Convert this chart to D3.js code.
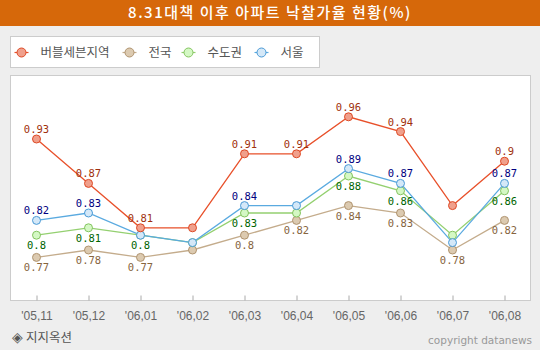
<!DOCTYPE html>
<html><head><meta charset="utf-8">
<script src="https://cdn.jsdelivr.net/npm/d3@7"></script>
<style>
html,body{margin:0;padding:0;background:#eeeeee;}
svg{display:block;}
</style></head>
<body>
<svg id="chart" width="540" height="350"></svg>
<script>
const title = "8.31대책 이후 아파트 낙찰가율 현황(%)";
const categories = ["'05,11","'05,12","'06,01","'06,02","'06,03","'06,04","'06,05","'06,06","'06,07","'06,08"];
const seriesNames = ["버블세븐지역","전국","수도권","서울"];
const bubbleSeven = [0.93,0.87,0.81,0.81,0.91,0.91,0.96,0.94,0.84,0.90];
const national   = [0.77,0.78,0.77,0.78,0.80,0.82,0.84,0.83,0.78,0.82];
const metro      = [0.80,0.81,0.80,0.79,0.83,0.83,0.88,0.86,0.80,0.86];
const seoul      = [0.82,0.83,0.80,0.79,0.84,0.84,0.89,0.87,0.79,0.87];
// which points carry a value label in the reference
const bubbleSevenLabeled = [1,1,1,0,1,1,1,1,0,1];
const nationalLabeled    = [1,1,1,0,1,1,1,1,1,1];
const metroLabeled       = [1,1,1,0,1,0,1,1,0,1];
const seoulLabeled       = [1,1,0,0,1,0,1,1,0,1];
const sourceMark = "◈";
const source = "지지옥션";
const copyright = "copyright datanews";

const svg = d3.select("#chart");
const W = 540, H = 350;

// title bar
svg.append("rect").attr("x",0).attr("y",0).attr("width",W).attr("height",26).attr("fill","#d6680a");
svg.append("text").attr("x",W/2).attr("y",18).attr("text-anchor","middle")
  .attr("fill","#fff").attr("font-family","'Noto Sans CJK KR', sans-serif")
  .attr("font-weight",500).attr("font-size",15).attr("letter-spacing",1.5).text(title);

const styles = [
  {name:seriesNames[0], data:bubbleSeven, lab:bubbleSevenLabeled, line:"#e8502a", fill:"#f0a08c", stroke:"#de4a26", text:"#a0300c", pos:"above"},
  {name:seriesNames[1], data:national, lab:nationalLabeled, line:"#c4ac8c", fill:"#dccab0", stroke:"#b09470", text:"#86643e", pos:"below"},
  {name:seriesNames[2], data:metro, lab:metroLabeled, line:"#94d070", fill:"#d4f8c4", stroke:"#84c460", text:"#006400", pos:"below"},
  {name:seriesNames[3], data:seoul, lab:seoulLabeled, line:"#5aaae0", fill:"#d4e8f8", stroke:"#4a9ad6", text:"#000080", pos:"above"}
];

// legend
const lg = svg.append("g");
lg.append("rect").attr("x",10.5).attr("y",36.5).attr("width",309).attr("height",31)
  .attr("fill","#fff").attr("stroke","#cccccc");
const legendX = [21.5,129.5,188.5,261.5];
styles.forEach((s,i)=>{
  const g = lg.append("g").attr("transform",`translate(${legendX[i]},52.5)`);
  g.append("line").attr("x1",-7).attr("x2",7).attr("stroke",s.line).attr("stroke-width",1.2);
  g.append("circle").attr("r",4.5).attr("fill",s.fill).attr("stroke",s.stroke).attr("stroke-width",1);
  g.append("text").attr("x",19).attr("y",4.5).attr("fill","#555")
    .attr("font-family","'Noto Sans CJK KR', sans-serif").attr("font-size",12.5).text(s.name);
});

// plot area
const plot = {left:10, right:530, top:75, bottom:300};
svg.append("rect").attr("x",plot.left+0.5).attr("y",plot.top+0.5)
  .attr("width",plot.right-plot.left).attr("height",plot.bottom-plot.top)
  .attr("fill","#fff").attr("stroke","#cccccc");

const x = d3.scalePoint().domain(categories).range([36.5,504.5]);
const y = d3.scaleLinear().domain([0.75,1.0]).range([272.2,87.2]);

// x axis with inward ticks
const xAxis = svg.append("g").attr("transform",`translate(0,${plot.bottom+0.5})`)
  .call(d3.axisBottom(x).tickSize(-5).tickPadding(13));
xAxis.select(".domain").remove();
xAxis.selectAll(".tick line").attr("stroke","#aaa");
xAxis.selectAll(".tick text").attr("fill","#666").attr("font-size",12)
  .attr("font-family","'Liberation Sans Narrow', 'Liberation Sans', sans-serif").attr("dy","0.5em");

const line = d3.line().x((d,i)=>x(categories[i])).y(d=>y(d));
const drawOrder = [1,2,3,0];
drawOrder.forEach(k=>{
  const s = styles[k];
  svg.append("path").datum(s.data).attr("d",line).attr("fill","none")
    .attr("stroke",s.line).attr("stroke-width",1.3);
});
drawOrder.forEach(k=>{
  const s = styles[k];
  svg.append("g").selectAll("circle").data(s.data).join("circle")
    .attr("cx",(d,i)=>x(categories[i])).attr("cy",d=>y(d)).attr("r",4)
    .attr("fill",s.fill).attr("stroke",s.stroke).attr("stroke-width",1);
});
styles.forEach(s=>{
  const pts = s.data.map((v,i)=>({v,i})).filter(p=>s.lab[p.i]);
  svg.append("g").selectAll("text").data(pts).join("text")
    .attr("x",p=>x(categories[p.i])).attr("y",p=>y(p.v)+(s.pos==="above"?-6:14))
    .attr("text-anchor","middle").attr("fill",s.text)
    .attr("font-family","'DejaVu Sans Mono', monospace").attr("font-size",10.5)
    .text(p=>String(p.v));
});

// footer
const ft = svg.append("text").attr("x",12).attr("y",342).attr("fill","#555")
  .attr("font-family","'Noto Sans CJK KR', sans-serif").attr("font-size",12.5);
ft.append("tspan").attr("font-size",14).text(sourceMark);
ft.append("tspan").attr("dx",3).text(source);
svg.append("text").attr("x",532).attr("y",344).attr("text-anchor","end").attr("fill","#999")
  .attr("font-family","'DejaVu Sans', sans-serif").attr("font-size",10.5).text(copyright);
</script>
</body></html>
